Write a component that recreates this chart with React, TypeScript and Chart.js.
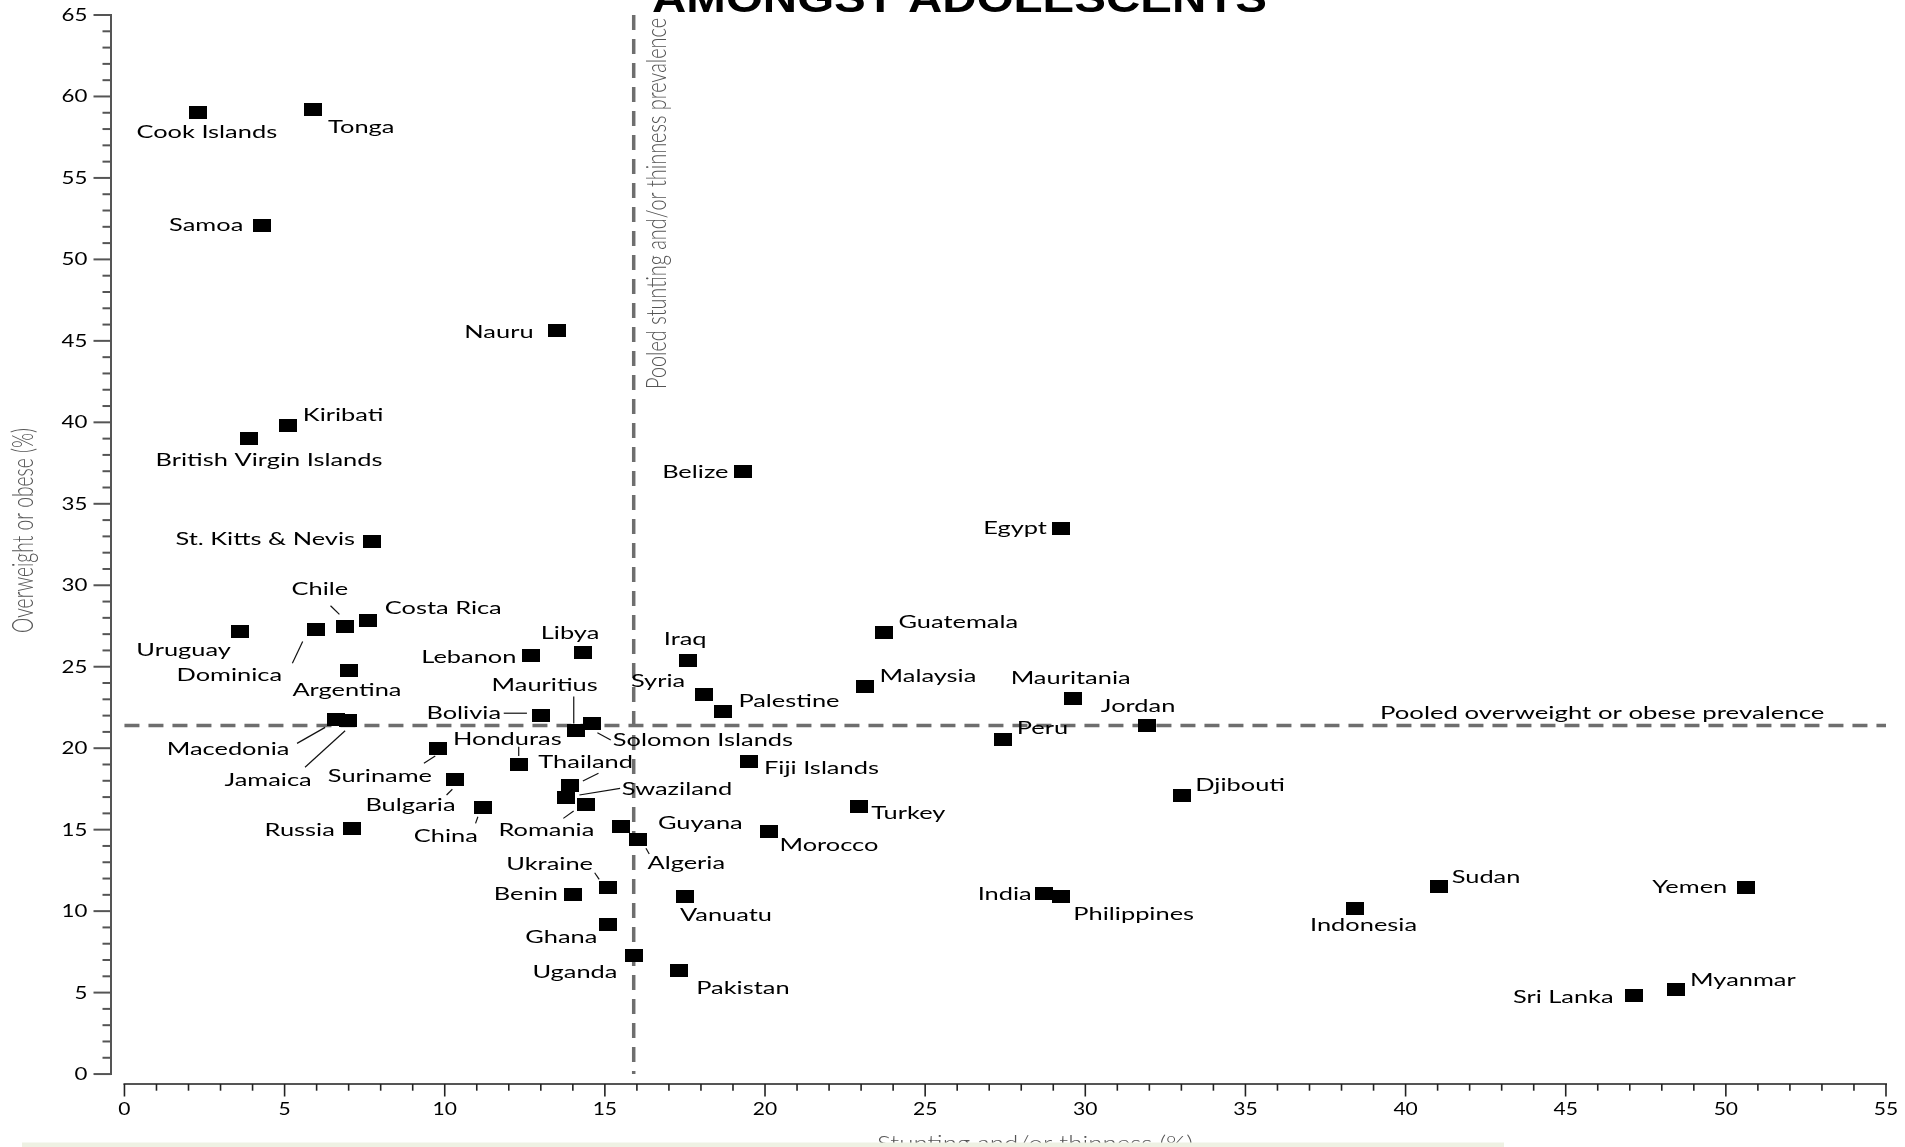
import React, { useEffect, useRef } from 'react';
import { Chart, registerables } from 'chart.js';

Chart.register(...registerables);

// ---------------- data ----------------
const countries = [
  'Cook Islands', 'Tonga', 'Samoa', 'Nauru', 'Kiribati', 'British Virgin Islands', 'St. Kitts & Nevis',
  'Belize', 'Egypt', 'Uruguay', 'Dominica', 'Chile', 'Costa Rica', 'Argentina', 'Lebanon', 'Libya',
  'Iraq', 'Guatemala', 'Malaysia', 'Syria', 'Palestine', 'Mauritania', 'Jordan', 'Peru', 'Bolivia',
  'Mauritius', 'Solomon Islands', 'Macedonia', 'Jamaica', 'Honduras', 'Suriname', 'Thailand',
  'Swaziland', 'Romania', 'Bulgaria', 'China', 'Russia', 'Guyana', 'Algeria', 'Ukraine', 'Benin',
  'Ghana', 'Uganda', 'Pakistan', 'Vanuatu', 'Morocco', 'Turkey', 'Fiji Islands', 'Djibouti', 'India',
  'Philippines', 'Indonesia', 'Sudan', 'Yemen', 'Myanmar', 'Sri Lanka',
];

// Stunting and/or thinness (%)
const stunting = [
  2.29, 5.9, 4.31, 13.51, 5.11, 3.89, 7.73,
  19.32, 29.25, 3.6, 5.98, 6.89, 7.6, 7.0, 12.7, 14.31,
  17.61, 23.72, 23.13, 18.11, 18.7, 29.62, 31.93, 27.42, 13.01,
  14.1, 14.61, 6.6, 6.99, 12.31, 9.8, 13.92,
  13.79, 14.4, 10.31, 11.2, 7.1, 15.51, 16.02, 15.1, 14.01,
  15.1, 15.91, 17.32, 17.5, 20.12, 22.92, 19.51, 33.03, 28.72,
  29.23, 38.43, 41.04, 50.64, 48.44, 47.14,
];

// Overweight or obese (%)
const overweight = [
  59.01, 59.22, 52.08, 45.61, 39.8, 38.98, 32.68,
  37.0, 33.5, 27.19, 27.28, 27.48, 27.81, 24.78, 25.68, 25.89,
  25.39, 27.09, 23.78, 23.31, 22.28, 23.06, 21.38, 20.56, 22.0,
  21.08, 21.53, 21.77, 21.67, 18.97, 20.0, 17.74,
  16.96, 16.57, 18.05, 16.37, 15.08, 15.18, 14.41, 11.46, 11.05,
  9.17, 7.26, 6.34, 10.88, 14.88, 16.41, 19.17, 17.07, 11.09,
  10.88, 10.17, 11.5, 11.46, 5.16, 4.85,
];

const xTickValues = [0, 5, 10, 15, 20, 25, 30, 35, 40, 45, 50, 55];
const yTickValues = [0, 5, 10, 15, 20, 25, 30, 35, 40, 45, 50, 55, 60, 65];

const pooledStunting = 15.9;
const pooledOverweight = 21.4;

const chartTitle = 'AMONGST ADOLESCENTS';
const xAxisTitle = 'Stunting and/or thinness (%)';
const yAxisTitle = 'Overweight or obese (%)';
const vLineLabel = 'Pooled stunting and/or thinness prevalence';
const hLineLabel = 'Pooled overweight or obese prevalence';

// ---------------- layout (label placement relative to each marker, px) ----------------
type Place = [CanvasTextAlign, number, number];
const labelPlacement: Place[] = [
  ['center', 9, 19], ['left', 14.7, 17.7], ['right', -19.2, 0], ['right', -23.6, 0.7],
  ['left', 14.7, -10.7], ['center', 20, 21.3], ['right', -17, -2.7],
  ['right', -14.7, 0.5], ['right', -14.3, 0], ['right', -8.9, 19], ['right', -33.9, 45.3],
  ['center', -25.2, -37.3], ['left', 16.9, -12.7], ['center', -1.7, 19.7], ['right', -14.75, 1],
  ['center', -12.7, -19],
  ['center', -3.3, -21.5], ['left', 14.3, -10.2], ['left', 14.3, -10.9], ['right', -19.3, -13.3],
  ['left', 15, -10.2], ['center', -2.5, -20.5], ['center', -9, -19.7], ['left', 14.1, -10.7],
  ['right', -40.1, -2.4],
  ['center', -31.4, -45.7], ['left', 20.4, 16.4], ['right', -46.4, 29.5], ['right', -36.6, 59],
  ['center', -11.4, -26], ['right', -6.3, 28], ['left', -32, -23],
  ['left', 55.7, -8.7], ['center', -39.3, 26.3], ['right', 0.9, 25], ['right', -5.3, 28.5],
  ['right', -17, 1.7], ['left', 36.7, -3.4], ['left', 10, 24], ['right', -15.1, -23.3],
  ['right', -15.2, 0],
  ['right', -10.7, 12], ['right', -16.6, 16.3], ['left', 17, 17.6], ['left', -5, 18.3],
  ['left', 10.6, 13.6], ['left', 12.7, 6], ['left', 14.7, 6.8], ['left', 12.9, -11.3],
  ['right', -12.6, 0.7],
  ['left', 12.7, 17], ['center', 8.2, 17.2], ['left', 12.8, -9.7], ['right', -19.1, 0],
  ['left', 14.1, -9.5], ['right', -20.6, 2.5],
];

// leader lines: [country, x1, y1, x2, y2] offsets from the marker, px
const leaderLines: [string, number, number, number, number][] = [
  ['Dominica', -23.6, 33.6, -13.3, 12],
  ['Chile', -14.6, -20.6, -5.7, -12],
  ['Macedonia', -38.8, 24, -10.7, 8],
  ['Jamaica', -43.3, 46.3, -3.2, 9.7],
  ['Suriname', -14.4, 15, -3.1, 7.7],
  ['Mauritius', -2.3, -34, -2.3, -7],
  ['Bolivia', -37.4, -2.4, -14.2, -2.4],
  ['Honduras', 0, -18.3, 0, -9],
  ['Thailand', 28.2, -11.7, 12.6, -4],
  ['Solomon Islands', 5, 9.4, 18.4, 16.7],
  ['Swaziland', 54, -9.4, 13.3, -2.7],
  ['Romania', -22.3, 14.3, -12, 7],
  ['Bulgaria', -8.1, 15, -2.3, 9.3],
  ['China', -7.6, 16, -5.3, 9.4],
  ['Algeria', 8.4, 9, 11.7, 14.7],
  ['Ukraine', -13.4, -14.6, -8.9, -8],
];

const LABEL_FONT_SIZE = 16.5;
const LABEL_FONT = `400 ${LABEL_FONT_SIZE}px Lato, "Open Sans", sans-serif`;
const TEXT_STRETCH = 1.54;
const LIGHT_FONT = 'Lato, "Open Sans", sans-serif';

function stretchedText(
  ctx: CanvasRenderingContext2D,
  text: string,
  x: number,
  y: number,
  align: CanvasTextAlign,
  sx: number,
) {
  ctx.save();
  ctx.translate(x, y);
  ctx.scale(sx, 1);
  ctx.textAlign = align;
  ctx.textBaseline = 'alphabetic';
  ctx.fillText(text, 0, 0);
  ctx.restore();
}

function fittedText(
  ctx: CanvasRenderingContext2D,
  text: string,
  x: number,
  y: number,
  align: CanvasTextAlign,
  targetLen: number,
  rotate: number,
) {
  ctx.save();
  ctx.translate(x, y);
  ctx.rotate(rotate);
  const w = ctx.measureText(text).width || 1;
  ctx.scale(targetLen / w, 1);
  ctx.textAlign = align;
  ctx.textBaseline = 'alphabetic';
  ctx.fillText(text, 0, 0);
  ctx.restore();
}

const decorPlugin = {
  id: 'decor',
  beforeDatasetsDraw(chart: any) {
    const { ctx } = chart;
    const xs = chart.scales.x;
    const ys = chart.scales.y;
    const left = chart.chartArea.left;
    const bottom = chart.chartArea.bottom;

    // axes
    ctx.save();
    ctx.strokeStyle = '#555';
    ctx.lineWidth = 2;
    ctx.beginPath();
    ctx.moveTo(left, ys.getPixelForValue(65) - 1);
    ctx.lineTo(left, ys.getPixelForValue(0) + 1);
    ctx.stroke();
    for (let v = 0; v <= 65; v++) {
      const py = ys.getPixelForValue(v);
      const len = v % 5 === 0 ? 17.5 : 8.5;
      ctx.beginPath();
      ctx.moveTo(left - len, py);
      ctx.lineTo(left, py);
      ctx.stroke();
    }
    ctx.beginPath();
    ctx.moveTo(xs.getPixelForValue(0) - 1, bottom);
    ctx.lineTo(xs.getPixelForValue(55) + 1, bottom);
    ctx.stroke();
    ctx.strokeStyle = '#222';
    ctx.lineWidth = 1.6;
    for (let v = 0; v <= 55; v++) {
      const px = xs.getPixelForValue(v);
      const len = v % 5 === 0 ? 12.5 : 6.7;
      ctx.beginPath();
      ctx.moveTo(px, bottom);
      ctx.lineTo(px, bottom + len);
      ctx.stroke();
    }
    ctx.restore();

    // pooled reference lines
    ctx.save();
    ctx.strokeStyle = '#6e6e6e';
    ctx.lineWidth = 3.5;
    ctx.setLineDash([15, 9]);
    const vx = xs.getPixelForValue(pooledStunting);
    ctx.beginPath();
    ctx.moveTo(vx, ys.getPixelForValue(65));
    ctx.lineTo(vx, ys.getPixelForValue(0));
    ctx.stroke();
    const hy = ys.getPixelForValue(pooledOverweight);
    ctx.beginPath();
    ctx.moveTo(xs.getPixelForValue(0), hy);
    ctx.lineTo(xs.getPixelForValue(55), hy);
    ctx.stroke();
    ctx.restore();

    // leader lines
    ctx.save();
    ctx.strokeStyle = '#111';
    ctx.lineWidth = 1.2;
    leaderLines.forEach(([name, x1, y1, x2, y2]) => {
      const i = countries.indexOf(name);
      if (i < 0) return;
      const px = xs.getPixelForValue(stunting[i]);
      const py = ys.getPixelForValue(overweight[i]);
      ctx.beginPath();
      ctx.moveTo(px + x1, py + y1);
      ctx.lineTo(px + x2, py + y2);
      ctx.stroke();
    });
    ctx.restore();
  },
  afterDatasetsDraw(chart: any) {
    const { ctx } = chart;
    const xs = chart.scales.x;
    const ys = chart.scales.y;
    const left = chart.chartArea.left;
    const bottom = chart.chartArea.bottom;

    ctx.save();
    ctx.fillStyle = '#000';
    ctx.font = LABEL_FONT;
    countries.forEach((name, i) => {
      const [align, dx, dy] = labelPlacement[i];
      const px = xs.getPixelForValue(stunting[i]);
      const py = ys.getPixelForValue(overweight[i]);
      stretchedText(ctx, name, px + dx, py + dy + 0.36 * LABEL_FONT_SIZE, align, TEXT_STRETCH);
    });

    // pooled overweight label
    const hy = ys.getPixelForValue(pooledOverweight);
    stretchedText(ctx, hLineLabel, xs.getPixelForValue(55) - 61.6, hy - 12.4 + 0.36 * LABEL_FONT_SIZE, 'right', 1.56);

    // tick labels
    ctx.font = `400 16.5px Lato, "Open Sans", sans-serif`;
    yTickValues.forEach((v) => {
      stretchedText(ctx, String(v), left - 23.7, ys.getPixelForValue(v) + 0.36 * 16.5, 'right', 1.35);
    });
    ctx.font = `400 17.5px Lato, "Open Sans", sans-serif`;
    xTickValues.forEach((v) => {
      stretchedText(ctx, String(v), xs.getPixelForValue(v), bottom + 25 + 0.36 * 17.5, 'center', 1.2);
    });

    // light rotated / axis titles
    ctx.fillStyle = '#555';
    ctx.font = `300 30px ${LIGHT_FONT}`;
    fittedText(ctx, yAxisTitle, 33, 633, 'left', 205, -Math.PI / 2);
    ctx.font = `300 28px ${LIGHT_FONT}`;
    fittedText(ctx, vLineLabel, xs.getPixelForValue(pooledStunting) + 32.5, 389, 'left', 371, -Math.PI / 2);
    ctx.font = `300 22px ${LIGHT_FONT}`;
    fittedText(ctx, xAxisTitle, 1035, 1150.5, 'center', 316, 0);

    // title (cut by the top edge)
    ctx.fillStyle = '#000';
    ctx.font = 'bold 40px "Liberation Sans", Arial, sans-serif';
    fittedText(ctx, chartTitle, 652, 11.5, 'left', 615, 0);

    // light strip at the bottom
    ctx.fillStyle = '#eef1e3';
    ctx.fillRect(22, 1142.5, 1482, 6);
    ctx.restore();
  },
};

export default function App() {
  const ref = useRef<HTMLCanvasElement | null>(null);

  useEffect(() => {
    document.body.style.margin = '0';
    document.body.style.overflow = 'hidden';
    const canvas = ref.current;
    if (!canvas) return;

    const marker = document.createElement('canvas');
    marker.width = 18;
    marker.height = 13;
    const mctx = marker.getContext('2d');
    if (mctx) {
      mctx.fillStyle = '#000';
      mctx.fillRect(0, 0, 18, 13);
    }

    const chart = new Chart(canvas, {
      type: 'scatter',
      data: {
        datasets: [
          {
            label: 'Countries',
            data: countries.map((_, i) => ({ x: stunting[i], y: overweight[i] })),
            pointStyle: marker as any,
            pointRadius: 9,
            pointHoverRadius: 9,
            backgroundColor: '#000',
            borderColor: '#000',
          },
        ],
      },
      options: {
        responsive: false,
        maintainAspectRatio: false,
        animation: false,
        devicePixelRatio: 1,
        layout: { padding: { left: 111, right: 19, top: 15, bottom: 63 } },
        scales: {
          x: { type: 'linear', min: -0.42, max: 55, display: false },
          y: { type: 'linear', min: -0.61, max: 65, display: false },
        },
        plugins: {
          legend: { display: false },
          tooltip: { enabled: false },
          title: { display: false },
        },
        events: [],
      },
      plugins: [decorPlugin],
    });
    return () => chart.destroy();
  }, []);

  return (
    <div style={{ position: 'absolute', left: 0, top: 0, width: 1905, height: 1147, background: '#fff' }}>
      <canvas ref={ref} width={1905} height={1147} style={{ width: 1905, height: 1147, display: 'block' }} />
    </div>
  );
}
